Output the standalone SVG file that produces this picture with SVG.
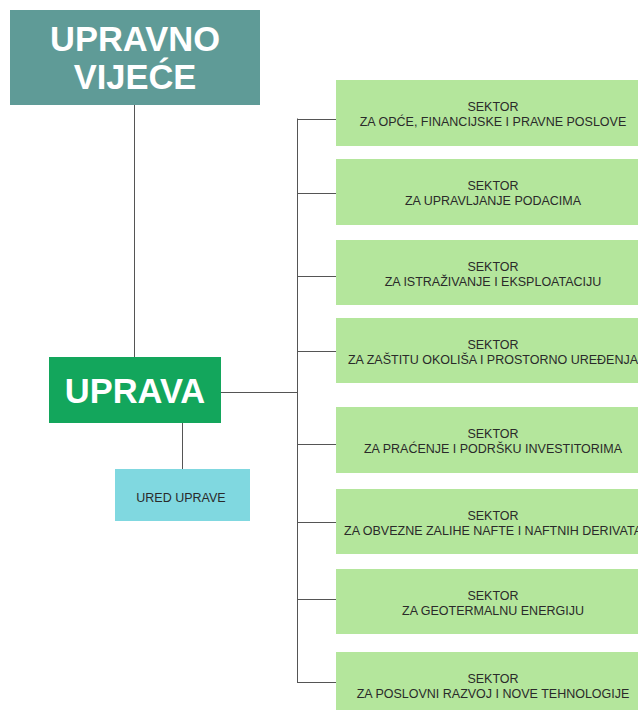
<svg xmlns="http://www.w3.org/2000/svg" width="638" height="710" viewBox="0 0 638 710">
<style>
.sec rect{fill:#b4e69c}
.st{font-family:"Liberation Sans",Arial,sans-serif;font-size:12.5px;fill:#2a2a2a;text-anchor:middle}
.big{font-family:"Liberation Sans",Arial,sans-serif;font-weight:bold;fill:#ffffff;text-anchor:middle}
.ln{stroke:#555;stroke-width:1;fill:none}
</style>
<rect width="638" height="710" fill="#ffffff"/>
<g id="connectors">
<path class="ln" d="M134.5 105V357"/>
<path class="ln" d="M221 392.5H297.5"/>
<path class="ln" d="M182.5 423V469"/>
<path class="ln" d="M297.5 118.5V682.5"/>
<path class="ln" d="M297 119.5H336M297 193.5H336M297 276.5H336M297 351.5H336M297 444.5H336M297 522.5H336M297 599.5H336M297 682.5H336"/>
</g>
<g id="upravno-vijece">
<rect x="10" y="10" width="250" height="95" fill="#5f9b97"/>
<text class="big" x="135" y="51" font-size="34.5">UPRAVNO</text>
<text class="big" x="135" y="89" font-size="34.5">VIJEĆE</text>
</g>
<g id="uprava">
<rect x="49" y="357" width="172" height="66" fill="#13a65c"/>
<text class="big" x="135" y="403" font-size="34.5">UPRAVA</text>
</g>
<g id="ured-uprave">
<rect x="115" y="469" width="135" height="52" fill="#80d8e0"/>
<text class="st" x="181" y="502" font-size="12.5">URED UPRAVE</text>
</g>
<g id="sektor1" class="sec">
<rect x="336" y="80" width="320" height="66"/>
<text class="st" x="493" y="111">SEKTOR</text>
<text class="st" x="493" y="126">ZA OPĆE, FINANCIJSKE I PRAVNE POSLOVE</text>
</g>
<g id="sektor2" class="sec">
<rect x="336" y="159" width="320" height="66"/>
<text class="st" x="493" y="190">SEKTOR</text>
<text class="st" x="493" y="205">ZA UPRAVLJANJE PODACIMA</text>
</g>
<g id="sektor3" class="sec">
<rect x="336" y="240" width="320" height="65"/>
<text class="st" x="493" y="271">SEKTOR</text>
<text class="st" x="493" y="286">ZA ISTRAŽIVANJE I EKSPLOATACIJU</text>
</g>
<g id="sektor4" class="sec">
<rect x="336" y="318" width="320" height="65"/>
<text class="st" x="493" y="349">SEKTOR</text>
<text class="st" x="493" y="364">ZA ZAŠTITU OKOLIŠA I PROSTORNO UREĐENJA</text>
</g>
<g id="sektor5" class="sec">
<rect x="336" y="407" width="320" height="66"/>
<text class="st" x="493" y="438">SEKTOR</text>
<text class="st" x="493" y="453">ZA PRAĆENJE I PODRŠKU INVESTITORIMA</text>
</g>
<g id="sektor6" class="sec">
<rect x="336" y="489" width="320" height="65"/>
<text class="st" x="493" y="520">SEKTOR</text>
<text class="st" x="493" y="535">ZA OBVEZNE ZALIHE NAFTE I NAFTNIH DERIVATA</text>
</g>
<g id="sektor7" class="sec">
<rect x="336" y="569" width="320" height="65"/>
<text class="st" x="493" y="600">SEKTOR</text>
<text class="st" x="493" y="615">ZA GEOTERMALNU ENERGIJU</text>
</g>
<g id="sektor8" class="sec">
<rect x="336" y="652" width="320" height="66"/>
<text class="st" x="493" y="683">SEKTOR</text>
<text class="st" x="493" y="698">ZA POSLOVNI RAZVOJ I NOVE TEHNOLOGIJE</text>
</g>
</svg>
